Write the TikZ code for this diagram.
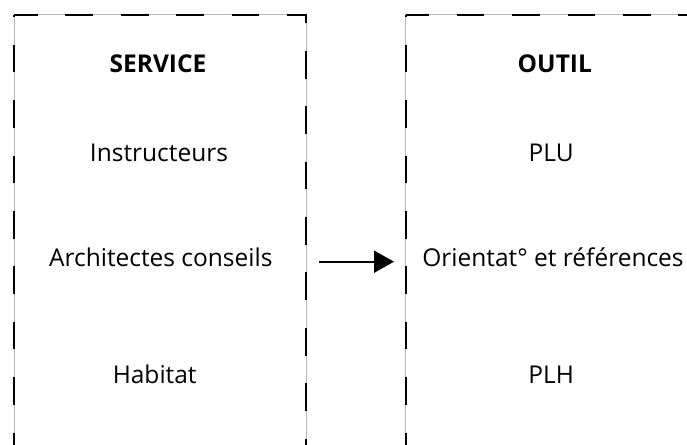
\documentclass[tikz,border=0pt]{standalone}
\usepackage{fontspec}
\setmainfont{Open Sans}
\usetikzlibrary{arrows.meta}
\definecolor{edgegray}{HTML}{B8B8B8}
\tikzset{
  boxframe/.style={draw=edgegray, line width=0.9pt, minimum width=#1, minimum height=494pt, inner sep=0pt, outer sep=0pt},
  dashline/.style={draw=black, line width=2.2pt, line cap=butt, line join=miter, dash pattern=on 27.7pt off 27.7pt},
  label/.style={anchor=base, inner sep=0pt, font=\fontsize{24.5}{29}\selectfont},
  title/.style={label, font=\fontsize{24.5}{29}\selectfont\bfseries},
  link/.style={draw=black, line width=1.8pt, -{Triangle[length=20pt,width=22pt]}}
}
\begin{document}
\begin{tikzpicture}[x=1pt,y=-1pt]
\useasboundingbox (0,0) rectangle (687,444);
\clip (0,0) rectangle (687,444);
\fill[white] (0,0) rectangle (687,444);
% boxes
\node[boxframe=292.3pt] (lb) at (160.15,261.7) {};
\node[boxframe=294.6pt] (rb) at (553,261.7) {};
\draw[dashline, dash phase=25.4pt] (lb.north west) -- (lb.south west);
\draw[dashline, dash phase=4pt] (lb.north west) -- (lb.north east) -- (lb.south east);
\draw[dashline, dash phase=25.4pt] (rb.north west) -- (rb.south west);
\draw[dashline, dash phase=4.4pt] (rb.north west) -- (rb.north east) -- (rb.south east);
% texts
\node[title] (service) at (158,72.3) {SERVICE};
\node[label] (instr) at (159,161.7) {Instructeurs};
\node[label] (archi) at (160.8,266.7) {Architectes conseils};
\node[label] (habitat) at (154.7,383.3) {Habitat};
\node[title] (outil) at (554.8,72.3) {OUTIL};
\node[label] (plu) at (551.2,161.7) {PLU};
\node[label] (orient) at (553,266.7) {Orientat° et références};
\node[label] (plh) at (551.2,383.3) {PLH};
% arrow
\draw[link, shorten <=12.7pt, shorten >=11.7pt] (lb.east) -- (rb.west);
\end{tikzpicture}
\end{document}
